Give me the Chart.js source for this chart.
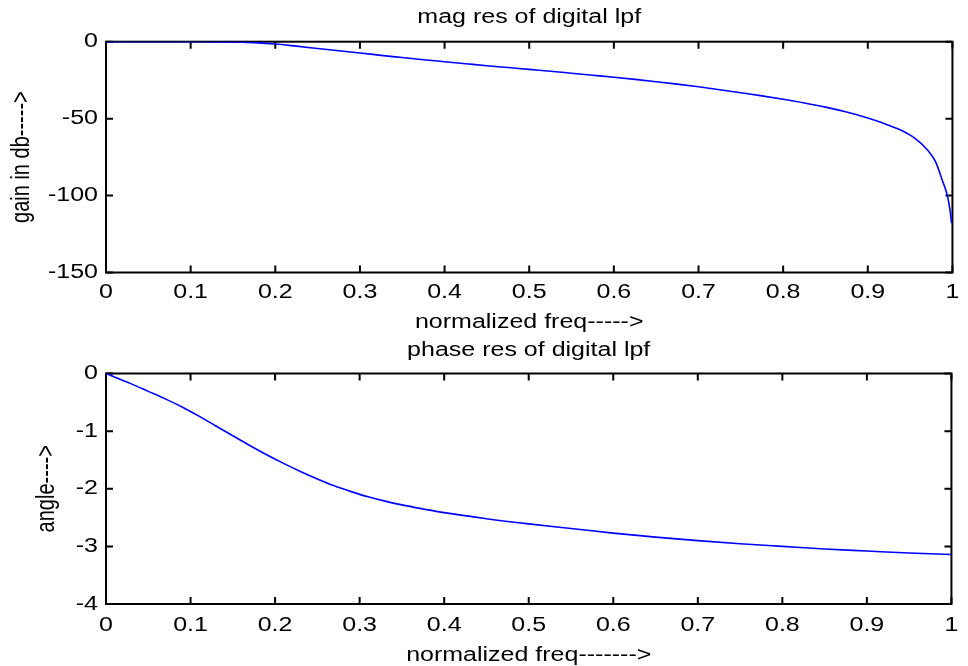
<!DOCTYPE html>
<html>
<head>
<meta charset="utf-8">
<script src="https://cdn.jsdelivr.net/npm/chart.js@4/dist/chart.umd.min.js"></script>
<style>
  html, body { margin: 0; padding: 0; background: #fff; }
  #wrap { position: relative; width: 968px; height: 666px; }
  canvas { position: absolute; left: 0; }
  #mag { top: 0; }
  #phase { top: 333px; }
</style>
</head>
<body>
<div id="wrap">
  <canvas id="mag" width="968" height="333"></canvas>
  <canvas id="phase" width="968" height="333"></canvas>
</div>
<script>
// Magnitude response (dB) of the digital low-pass filter
const magFreq = [0, 0.05, 0.1, 0.15, 0.175, 0.2, 0.225, 0.25, 0.275, 0.3, 0.325, 0.35, 0.375, 0.4,
  0.425, 0.45, 0.475, 0.5, 0.525, 0.55, 0.575, 0.6, 0.625, 0.65, 0.675, 0.7, 0.725, 0.75, 0.775,
  0.8, 0.825, 0.85, 0.875, 0.9, 0.92, 0.94, 0.955, 0.97, 0.98, 0.988, 0.994, 0.997, 0.999];
const magDb = [0, 0, 0, -0.1, -0.6, -1.5, -2.9, -4.4, -5.9, -7.3, -8.9, -10.3, -11.7, -13.0,
  -14.3, -15.6, -16.8, -18.0, -19.2, -20.5, -21.8, -23.1, -24.5, -26.0, -27.6, -29.3, -31.2, -33.2, -35.2,
  -37.4, -39.8, -42.5, -45.7, -49.6, -53.3, -57.7, -62.5, -70, -78, -90, -100, -109, -118];

// Phase response (radians)
const phaseFreq = [0, 0.03, 0.05, 0.07, 0.09, 0.11, 0.13, 0.15, 0.17, 0.19, 0.21, 0.23, 0.25, 0.27,
  0.29, 0.31, 0.33, 0.35, 0.375, 0.4, 0.45, 0.5, 0.55, 0.6, 0.65, 0.7, 0.75, 0.8, 0.85, 0.9, 0.95, 1.0];
const phaseRad = [0, -0.18, -0.31, -0.44, -0.58, -0.74, -0.91, -1.08, -1.25, -1.41, -1.56, -1.70, -1.83, -1.95,
  -2.05, -2.14, -2.215, -2.28, -2.35, -2.415, -2.52, -2.61, -2.69, -2.77, -2.84, -2.90, -2.955, -3.0, -3.045, -3.08, -3.115, -3.14];

// Axis ticks
const freqTicks = [0, 0.1, 0.2, 0.3, 0.4, 0.5, 0.6, 0.7, 0.8, 0.9, 1];
const freqTickLabels = ['0', '0.1', '0.2', '0.3', '0.4', '0.5', '0.6', '0.7', '0.8', '0.9', '1'];
const magTicks = [0, -50, -100, -150];
const magTickLabels = ['0', '-50', '-100', '-150'];
const phaseTicks = [0, -1, -2, -3, -4];
const phaseTickLabels = ['0', '-1', '-2', '-3', '-4'];

const FAMILY = "'Liberation Sans', Arial, Helvetica, sans-serif";
const FONT = { family: FAMILY, size: 20, lineHeight: 1 };
Chart.defaults.color = '#000';

// All text is drawn widened along the page's horizontal direction
function widenText(ctx, sx) {
  const fill = ctx.fillText;
  ctx.fillText = function (text, x, y) {
    const m = this.getTransform();
    const rotated = Math.abs(m.b) > 1e-6 || Math.abs(m.c) > 1e-6;
    this.save();
    this.translate(x, y);
    // for text turned a quarter turn, the page's x runs along the local y axis
    if (rotated) this.scale(1, sx); else this.scale(sx, 1);
    fill.call(this, text, 0, 0);
    this.restore();
  };
}

// Boxed axes with inward tick marks on all four sides
const boxAxes = {
  id: 'boxAxes',
  beforeDatasetsDraw(chart) {
    const { ctx, chartArea: a, scales: { x, y } } = chart;
    const len = 7;
    ctx.save();
    ctx.strokeStyle = '#000';
    ctx.lineWidth = 2;
    ctx.beginPath();
    x.ticks.forEach(t => {
      const px = x.getPixelForValue(t.value);
      ctx.moveTo(px, a.bottom); ctx.lineTo(px, a.bottom - len);
      ctx.moveTo(px, a.top); ctx.lineTo(px, a.top + len);
    });
    y.ticks.forEach(t => {
      const py = y.getPixelForValue(t.value);
      ctx.moveTo(a.left, py); ctx.lineTo(a.left + len, py);
      ctx.moveTo(a.right, py); ctx.lineTo(a.right - len, py);
    });
    ctx.stroke();
    ctx.strokeRect(a.left, a.top, a.right - a.left, a.bottom - a.top);
    ctx.restore();
  }
};

function makeChart(id, opts) {
  const ctx = document.getElementById(id).getContext('2d');
  widenText(ctx, 1.25);
  const points = opts.xs.map((v, i) => ({ x: v, y: opts.ys[i] }));
  return new Chart(ctx, {
    type: 'line',
    data: {
      datasets: [{
        data: points,
        borderColor: '#0000ff',
        borderWidth: 1.6,
        pointRadius: 0,
        cubicInterpolationMode: 'monotone',
        fill: false
      }]
    },
    plugins: [boxAxes],
    options: {
      responsive: false,
      animation: false,
      devicePixelRatio: 1,
      layout: { autoPadding: false, padding: { left: 0, right: 8, top: 0, bottom: 0 } },
      plugins: {
        legend: { display: false },
        tooltip: { enabled: false },
        title: {
          display: true,
          fullSize: false,
          text: opts.title,
          color: '#000',
          font: { family: FAMILY, size: 20, weight: 'normal', lineHeight: 1.2 },
          padding: { top: 5.5, bottom: opts.titleGap }
        }
      },
      scales: {
        x: {
          type: 'linear',
          min: 0, max: 1,
          grid: { display: false, drawTicks: false },
          border: { display: false },
          afterBuildTicks: s => { s.ticks = freqTicks.map(v => ({ value: v })); },
          afterFit: s => { s.height = opts.xAxisHeight; },
          ticks: {
            padding: opts.xTickPad,
            font: FONT,
            color: '#000',
            maxRotation: 0,
            autoSkip: false,
            callback: v => freqTickLabels[freqTicks.indexOf(v)]
          },
          title: {
            display: true,
            text: opts.xTitle,
            color: '#000',
            font: FONT,
            padding: { top: 0, bottom: 1 }
          }
        },
        y: {
          type: 'linear',
          min: opts.yTicks[opts.yTicks.length - 1],
          max: opts.yTicks[0],
          grid: { display: false, drawTicks: false },
          border: { display: false },
          afterBuildTicks: s => { s.ticks = opts.yTicks.slice().reverse().map(v => ({ value: v })); },
          afterFit: s => { s.width = 106; },
          ticks: {
            padding: 8,
            font: FONT,
            color: '#000',
            autoSkip: false,
            callback: v => opts.yTickLabels[opts.yTicks.indexOf(v)]
          },
          title: {
            display: true,
            text: opts.yTitle,
            color: '#000',
            font: FONT,
            padding: { top: opts.yTitlePad, bottom: 0 }
          }
        }
      }
    }
  });
}

makeChart('mag', {
  xs: magFreq, ys: magDb,
  title: 'mag res of digital lpf',
  xTitle: 'normalized freq----->',
  yTitle: 'gain in db----->',
  yTicks: magTicks, yTickLabels: magTickLabels,
  titleGap: 12.2, xAxisHeight: 60.5, xTickPad: 10, yTitlePad: 12
});

makeChart('phase', {
  xs: phaseFreq, ys: phaseRad,
  title: 'phase res of digital lpf',
  xTitle: 'normalized freq------->',
  yTitle: 'angle---->',
  yTicks: phaseTicks, yTickLabels: phaseTickLabels,
  titleGap: 11, xAxisHeight: 62, xTickPad: 11, yTitlePad: 37
});
</script>
</body>
</html>
